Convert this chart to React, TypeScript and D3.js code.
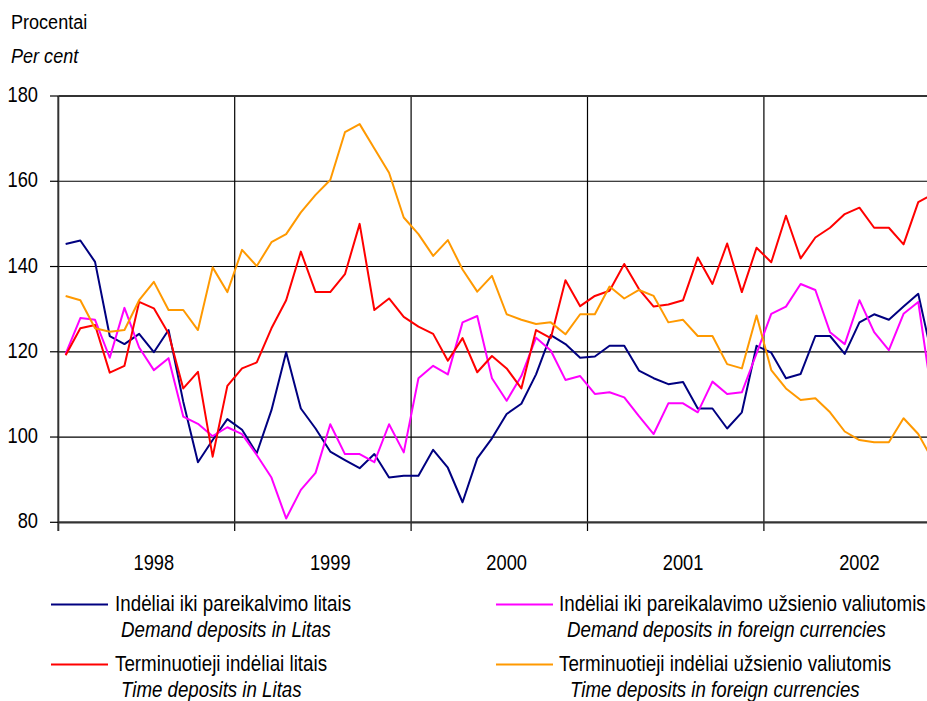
import * as d3 from 'd3';

// categories
const years = ['1998', '1999', '2000', '2001', '2002'];
const months = years.flatMap((yr) => d3.range(1, 13).map((m) => `${yr}-${m}`));
const yTicks = [80, 100, 120, 140, 160, 180];

// series values (per cent), monthly 1998-2002
const demandLitas = [
  145.3, 146.1, 141.1, 123.7, 121.8, 124.2, 119.9, 125.1, 108.3, 94.1, 99.3, 104.2,
  101.7, 96.2, 106.3, 119.9, 106.7, 102.0, 96.6, 94.6, 92.7, 96.0, 90.5, 90.9,
  90.9, 97.0, 92.8, 84.7, 95.0, 99.7, 105.4, 107.8, 114.7, 123.9, 121.8, 118.6,
  118.9, 121.4, 121.4, 115.6, 113.8, 112.4, 112.9, 106.7, 106.7, 102.0, 105.8, 121.4,
  119.8, 113.8, 114.8, 123.7, 123.7, 119.5, 126.9, 128.8, 127.5, 130.6, 133.6, 118.0,
];
const demandForeign = [
  119.5, 127.9, 127.5, 118.6, 130.3, 121.0, 115.7, 118.5, 104.8, 103.1, 100.2, 102.3,
  100.7, 95.8, 90.5, 80.9, 87.6, 91.6, 103.0, 96.0, 96.0, 94.1, 103.0, 96.4,
  113.8, 116.7, 114.7, 126.9, 128.4, 113.8, 108.5, 114.3, 123.3, 120.3, 113.4, 114.3,
  110.1, 110.5, 109.3, 104.9, 100.7, 107.9, 107.9, 105.8, 113.0, 110.1, 110.5, 119.6,
  128.9, 130.6, 135.9, 134.5, 124.6, 121.8, 132.1, 124.6, 120.4, 128.9, 131.7, 108.0,
];
const timeLitas = [
  119.2, 125.5, 126.3, 115.1, 116.7, 131.7, 130.2, 124.3, 111.4, 115.3, 95.4, 112.0,
  116.1, 117.5, 125.5, 132.1, 143.5, 134.0, 134.0, 138.2, 150.0, 129.8, 132.5, 128.2,
  125.9, 124.2, 117.9, 123.2, 115.2, 119.0, 116.1, 111.4, 125.1, 123.2, 136.8, 130.7,
  133.1, 134.3, 140.6, 134.7, 130.6, 131.1, 132.1, 142.1, 135.9, 145.4, 134.0, 144.4,
  141.0, 151.9, 141.9, 146.8, 149.1, 152.3, 153.8, 149.1, 149.1, 145.2, 155.1, 157.0,
];
const timeForeign = [
  133.1, 132.1, 125.5, 124.7, 125.1, 132.1, 136.4, 129.8, 129.8, 125.1, 139.8, 134.0,
  143.9, 140.1, 145.7, 147.6, 152.7, 156.8, 160.3, 171.5, 173.4, 167.7, 162.0, 151.5,
  147.6, 142.5, 146.2, 139.3, 134.1, 137.8, 128.8, 127.5, 126.5, 126.9, 124.1, 128.8,
  128.8, 135.3, 132.5, 134.5, 133.1, 126.9, 127.5, 123.7, 123.7, 117.1, 116.1, 128.5,
  115.7, 111.4, 108.7, 109.1, 105.8, 101.3, 99.3, 98.8, 98.8, 104.4, 100.7, 94.5,
];

const seriesNames = [
  ['Indėliai iki pareikalvimo litais', 'Demand deposits in Litas'],
  ['Indėliai iki pareikalavimo užsienio valiutomis', 'Demand deposits in foreign currencies'],
  ['Terminuotieji indėliai litais', 'Time deposits in Litas'],
  ['Terminuotieji indėliai užsienio valiutomis', 'Time deposits in foreign currencies'],
];
const colors = ['#000080', '#ff00ff', '#ff0000', '#ff9900'];
const seriesData = [demandLitas, demandForeign, timeLitas, timeForeign];

const W = 927;
const H = 701;
const FONT = '"Liberation Sans", Arial, sans-serif';

const Txt = ({ x, y, size = 22, sx = 0.83, italic = false, anchor = 'start', children }) => (
  <text
    transform={`translate(${x},${y}) scale(${sx},1)`}
    fontSize={size}
    fontStyle={italic ? 'italic' : 'normal'}
    textAnchor={anchor}
    fill="#000"
  >
    {children}
  </text>
);

export default function App() {
  const left = 58.3;
  const x = d3.scaleBand().domain(months).range([left, left + 60 * 14.7]).paddingInner(0);
  const y = d3.scaleLinear().domain([80, 180]).range([522.3, 96]);
  const cx = (m) => x(m) + x.bandwidth() / 2;
  const line = d3.line().x((d) => cx(d[0])).y((d) => y(d[1]));

  const legendPos = [
    { sx: 51, tx: 115, ix: 121, y: 604.5 },
    { sx: 496, tx: 559, ix: 567, y: 604.5 },
    { sx: 51, tx: 115, ix: 121, y: 664.5 },
    { sx: 496, tx: 559, ix: 570, y: 664.5 },
  ];

  return (
    <svg
      width={W}
      height={H}
      style={{ position: 'absolute', left: 0, top: 0, display: 'block', background: '#fff' }}
      fontFamily={FONT}
    >
      <Txt x={11} y={29} size={21} sx={0.86}>Procentai</Txt>
      <Txt x={11} y={63} size={21} sx={0.86} italic>Per cent</Txt>

      {/* horizontal grid */}
      {yTicks.filter((t) => t !== 80 && t !== 180).map((t) => (
        <line key={t} x1={left} x2={W} y1={y(t)} y2={y(t)} stroke="#000" strokeWidth={1.2} />
      ))}
      {/* vertical grid at year boundaries */}
      {years.slice(1).map((yr) => (
        <line key={yr} x1={x(`${yr}-1`)} x2={x(`${yr}-1`)} y1={y(180)} y2={531} stroke="#000" strokeWidth={1.2} />
      ))}
      {/* frame */}
      <line x1={left} x2={W} y1={y(180)} y2={y(180)} stroke="#333" strokeWidth={2.2} />
      <line x1={left} x2={W} y1={y(80)} y2={y(80)} stroke="#333" strokeWidth={2.2} />
      <line x1={left} x2={left} y1={y(180)} y2={531} stroke="#333" strokeWidth={2} />

      {/* y ticks */}
      {yTicks.map((t) => (
        <g key={t}>
          <line x1={50} x2={left} y1={y(t)} y2={y(t)} stroke="#000" strokeWidth={1.2} />
          <Txt x={38} y={y(t) + 6} anchor="end">{t}</Txt>
        </g>
      ))}

      {/* year labels at July */}
      {years.map((yr) => (
        <Txt key={yr} x={cx(`${yr}-7`)} y={570} anchor="middle">{yr}</Txt>
      ))}

      {/* series */}
      {seriesData.map((vals, s) => (
        <path
          key={s}
          d={line(months.map((m, i) => [m, vals[i]]))}
          fill="none"
          stroke={colors[s]}
          strokeWidth={2}
          strokeLinejoin="round"
        />
      ))}

      {/* legend */}
      {seriesNames.map(([lt, en], s) => {
        const p = legendPos[s];
        return (
          <g key={s}>
            <line x1={p.sx} x2={p.sx + 57} y1={p.y} y2={p.y} stroke={colors[s]} strokeWidth={2} />
            <Txt x={p.tx} y={p.y + 6} sx={0.855}>{lt}</Txt>
            <Txt x={p.ix} y={p.y + 32} sx={0.85} italic>{en}</Txt>
          </g>
        );
      })}
    </svg>
  );
}
